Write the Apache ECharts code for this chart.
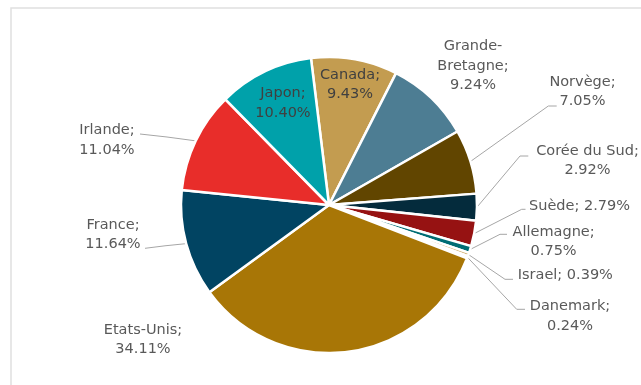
<!DOCTYPE html>
<html>
<head>
<meta charset="utf-8">
<script src="https://cdn.jsdelivr.net/npm/echarts@6/dist/echarts.min.js"></script>
<style>
html,body{margin:0;padding:0;background:#fff;}
#chart{width:641px;height:385px;}
</style>
</head>
<body>
<div id="chart"></div>
<script>
// ---- data ----
const categories = ['Canada','Grande-Bretagne','Norvège','Corée du Sud','Suède','Allemagne','Israel','Danemark','Etats-Unis','France','Irlande','Japon'];
const values = [9.43, 9.24, 7.05, 2.92, 2.79, 0.75, 0.39, 0.24, 34.11, 11.64, 11.04, 10.40];
const colors = ['#C39C50','#4D7D93','#614500','#042B3C','#961212','#006D74','#D2B274','#9A7420','#A87606','#014462','#E82D2A','#00A1AA'];

// ---- label layout (positions, not data) ----
// [centerX, centerY, elbowX, elbowY, endX, endY] ; null elbow = no leader line
const labelPos = [
  [350, 84.5, null],
  [473, 66, null],
  [582.5, 91.7, 548.3, 106, 556.7, 106],
  [587.5, 160.5, 520, 156, 528.3, 156],
  [579.5, 206, 521.7, 209.3, 525.5, 209.3],
  [553.6, 241.5, 500, 234.3, 507, 234.3],
  [565.3, 275.7, 505, 279.3, 513, 279.3],
  [570, 316.3, 516.7, 309.3, 525, 309.3],
  [143, 339.5, null],
  [113, 234.5, 165, 245.8, 145, 248.3],
  [107, 140, 167, 137, 140, 134],
  [283, 103, null]
];
const inlineLabel = ['Suède', 'Israel'];
const insideLabel = ['Canada', 'Japon'];

const chart = echarts.init(document.getElementById('chart'));
const data = categories.map((c, i) => ({
  name: c,
  value: values[i],
  itemStyle: { color: colors[i] },
  label: { color: insideLabel.includes(c) ? '#404040' : '#595959' },
  labelLine: { show: labelPos[i][2] !== null }
}));

chart.setOption({
  animation: false,
  graphic: [{
    type: 'rect',
    shape: { x: 11, y: 8, width: 720, height: 420 },
    style: { fill: 'none', stroke: '#E0E0E0', lineWidth: 1.5 },
    silent: true, z: -10
  }],
  series: [{
    type: 'pie',
    center: [329, 205],
    radius: [0, 148],
    startAngle: 97,
    clockwise: true,
    avoidLabelOverlap: false,
    data: data,
    itemStyle: { borderColor: '#ffffff', borderWidth: 2.5 },
    label: {
      show: true,
      position: 'outside',
      fontFamily: 'DejaVu Sans',
      fontSize: 14.5,
      lineHeight: 19.5,
      align: 'center',
      formatter: function (p) {
        const v = p.value.toFixed(2) + '%';
        let name = p.name;
        if (name === 'Grande-Bretagne') name = 'Grande-\nBretagne';
        if (inlineLabel.includes(p.name)) return name + '; ' + v;
        return name + ';\n' + v;
      }
    },
    labelLine: {
      show: true,
      length: 10,
      length2: 10,
      lineStyle: { color: '#A6A6A6', width: 1 }
    },
    labelLayout: function (params) {
      const lp = labelPos[params.dataIndex];
      const out = { x: lp[0], y: lp[1], align: 'center', verticalAlign: 'middle' };
      if (lp[2] !== null && params.labelLinePoints) {
        const s = params.labelLinePoints[0];
        out.labelLinePoints = [[s[0], s[1]], [lp[2], lp[3]], [lp[4], lp[5]]];
      }
      return out;
    }
  }]
});
</script>
</body>
</html>
